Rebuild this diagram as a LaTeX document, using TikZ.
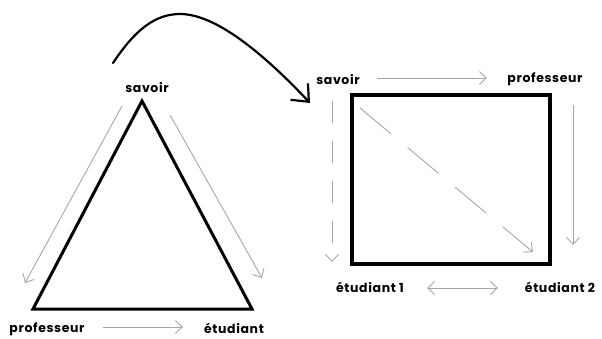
\documentclass[tikz,border=0pt]{standalone}
\usepackage{fontspec}
\setmainfont{Poppins}[LetterSpace=5]
\usetikzlibrary{arrows.meta}
\tikzset{
  lbl/.style={font=\bfseries\fontsize{12.5}{13}\selectfont, inner sep=0pt},
  thickline/.style={line width=3pt, line join=miter},
  garrow/.style={draw=gray!70, line width=0.9pt, -{Straight Barb[length=7pt,width=13pt,line width=0.9pt]}},
  gdash/.style={garrow, dash pattern=on 22pt off 18pt},
}
\begin{document}
\begin{tikzpicture}[x=1pt,y=-1pt]
\useasboundingbox (0,0) rectangle (602,338);
% left triangle
\coordinate (A) at (142,101);
\coordinate (B) at (33,309);
\coordinate (C) at (252,309);
\draw[thickline] (A) -- (B) -- (C) -- cycle;
\node[lbl] (sav1) at (147,88) {savoir};
\node[lbl] (prof1) at (47,329) {professeur};
\node[lbl] (etu1) at (234,328) {étudiant};
\coordinate (l1s) at (122,106); \coordinate (l1e) at (25,283);
\coordinate (r1s) at (170,115); \coordinate (r1e) at (262,278);
\coordinate (b1s) at (103,327); \coordinate (b1e) at (183,327);
\draw[garrow] (l1s) -- (l1e);
\draw[garrow] (r1s) -- (r1e);
\draw[garrow] (b1s) -- (b1e);
% curved arrow
\coordinate (cs) at (113,63);
\coordinate (cp) at (180,14);
\coordinate (ce) at (310,103);
\draw[line width=2.2pt, line cap=round, -{Straight Barb[length=14pt,width=24pt,line width=2.2pt]}]
  (cs) .. controls (135,30) and (155,14) .. (cp) .. controls (215,14) and (262,52) .. (ce);
% right rectangle
\node[draw, line width=4pt, minimum width=198pt, minimum height=169pt, inner sep=0pt] (rect) at (451,179.5) {};
\node[lbl] (sav2) at (338,80) {savoir};
\node[lbl] (prof2) at (545,79) {professeur};
\node[lbl] (e21) at (370,287) {étudiant 1};
\node[lbl] (e22) at (560,287) {étudiant 2};
\coordinate (t2s) at (377,78); \coordinate (t2e) at (487,78);
\coordinate (v2s) at (332,101); \coordinate (v2e) at (332,262);
\coordinate (d2s) at (360,108); \coordinate (d2e) at (533,252);
\coordinate (r2s) at (573,105); \coordinate (r2e) at (573,245);
\coordinate (h2s) at (427,288); \coordinate (h2e) at (498,288);
\draw[garrow] (t2s) -- (t2e);
\draw[gdash] (v2s) -- (v2e);
\draw[garrow, dash pattern=on 40pt off 22pt] (d2s) -- (d2e);
\draw[garrow] (r2s) -- (r2e);
\draw[garrow, {Straight Barb[length=7pt,width=13pt,line width=0.9pt]}-{Straight Barb[length=7pt,width=13pt,line width=0.9pt]}] (h2s) -- (h2e);
\end{tikzpicture}
\end{document}
